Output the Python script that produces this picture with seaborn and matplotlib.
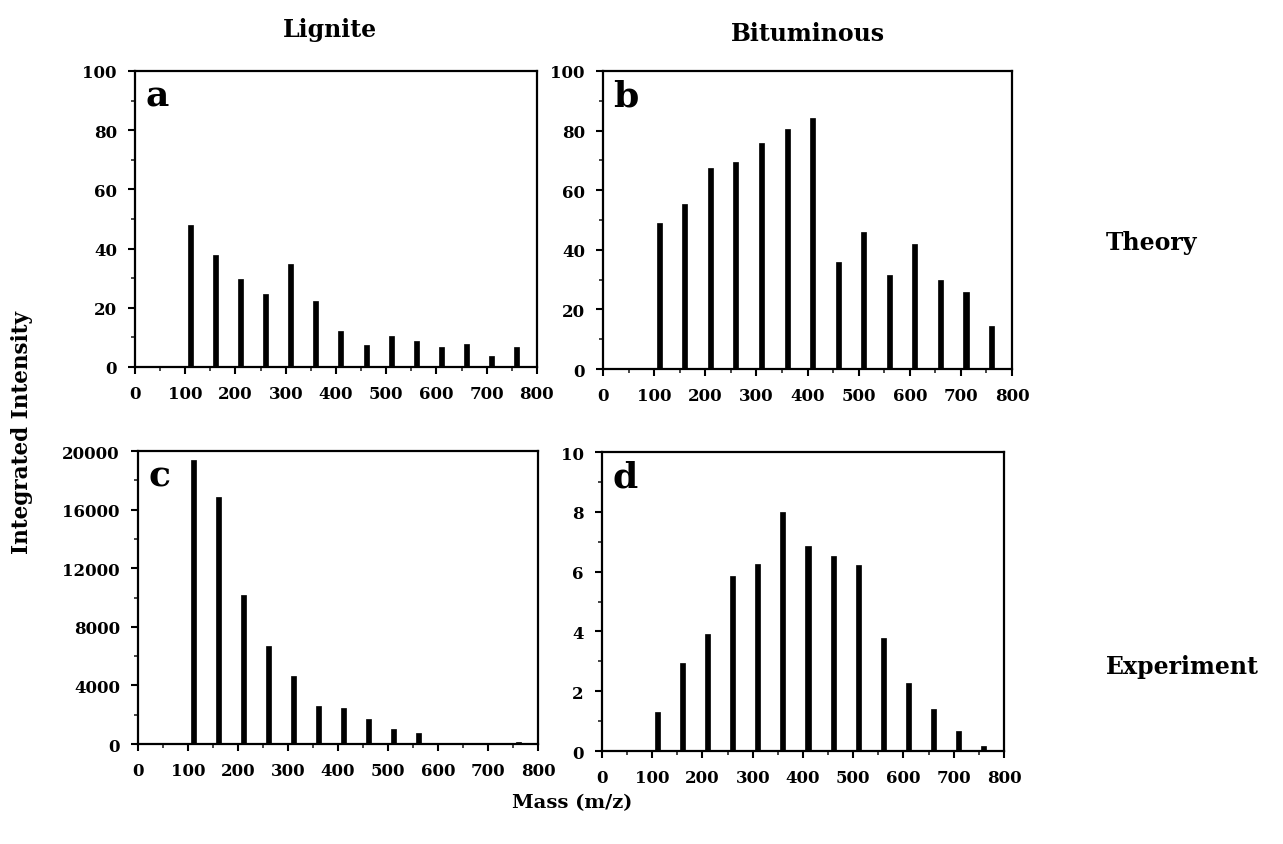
import matplotlib
matplotlib.use("Agg")
import matplotlib.pyplot as plt
import seaborn as sns
import pandas as pd
from matplotlib.ticker import MultipleLocator

sns.set_theme(style="ticks")
plt.rcParams['font.family'] = ['DejaVu Serif']
plt.rcParams['font.weight'] = 'bold'
plt.rcParams['text.color'] = 'black'

mass = [110, 160, 210, 260, 310, 360, 410, 460, 510, 560, 610, 660, 710, 760]
lignite_theory = [48, 37.7, 29.7, 24.8, 34.9, 22.3, 12.2, 7.4, 10.5, 8.8, 6.9, 7.7, 3.7, 6.9]
bitum_theory = [49, 55.5, 67.6, 69.3, 76, 80.7, 84.3, 36, 46, 31.5, 42, 29.8, 26, 14.4]
lignite_exp = [19400, 16850, 10160, 6720, 4640, 2600, 2470, 1700, 1060, 750, 60, 40, 60, 120]
bitum_exp = [1.3, 2.94, 3.9, 5.87, 6.24, 8.0, 6.86, 6.52, 6.21, 3.79, 2.28, 1.41, 0.66, 0.17]

panels = [
    ("a", lignite_theory, [0.1052, 0.5645, 0.3133, 0.3503], 100, 20, 10),
    ("b", bitum_theory, [0.4700, 0.5621, 0.3188, 0.3527], 100, 20, 10),
    ("c", lignite_exp, [0.1076, 0.1183, 0.3118, 0.3467], 20000, 4000, 2000),
    ("d", bitum_exp, [0.4692, 0.1100, 0.3133, 0.3538], 10, 2, 1),
]

fig = plt.figure(figsize=(12.83, 8.45), dpi=100)
fig.patch.set_facecolor("white")

for label, vals, pos, ymax, ymaj, ymin in panels:
    ax = fig.add_axes(pos)
    df = pd.DataFrame({"mass": mass, "val": vals})
    sns.barplot(data=df, x="mass", y="val", native_scale=True, width=0.2,
                color="black", edgecolor="black", linewidth=0.5, ax=ax)
    ax.set_xlim(0, 800)
    ax.set_ylim(0, ymax)
    ax.xaxis.set_major_locator(MultipleLocator(100))
    ax.xaxis.set_minor_locator(MultipleLocator(50))
    ax.yaxis.set_major_locator(MultipleLocator(ymaj))
    ax.yaxis.set_minor_locator(MultipleLocator(ymin))
    ax.tick_params(which="major", direction="out", length=5, width=1.5,
                   labelsize=12, colors="black", pad=8)
    ax.tick_params(which="minor", direction="out", length=3, width=1.2)
    for lab in ax.get_xticklabels() + ax.get_yticklabels():
        lab.set_fontweight("heavy")
    ax.set_xlabel("")
    ax.set_ylabel("")
    for sp in ax.spines.values():
        sp.set_visible(True)
        sp.set_linewidth(1.6)
        sp.set_color("black")
    ax.text(0.025, 0.975, label, transform=ax.transAxes, ha="left", va="top",
            fontsize=26, fontweight="heavy", color="black")

fig.text(330 / 1283, 1 - 30 / 845, "Lignite", ha="center", va="center",
         fontsize=17, fontweight="bold")
fig.text(808 / 1283, 1 - 34 / 845, "Bituminous", ha="center", va="center",
         fontsize=17, fontweight="bold")
fig.text(1152 / 1283, 1 - 243 / 845, "Theory", ha="center", va="center",
         fontsize=17, fontweight="bold")
fig.text(1182 / 1283, 1 - 667 / 845, "Experiment", ha="center", va="center",
         fontsize=17, fontweight="bold")
fig.text(22 / 1283, 1 - 432 / 845, "Integrated Intensity", ha="center",
         va="center", rotation=90, fontsize=15.5, fontweight="bold")
fig.text(572 / 1283, 1 - 803 / 845, "Mass (m/z)", ha="center", va="center",
         fontsize=14, fontweight="bold")

fig.savefig("out.png", dpi=100, facecolor="white")
